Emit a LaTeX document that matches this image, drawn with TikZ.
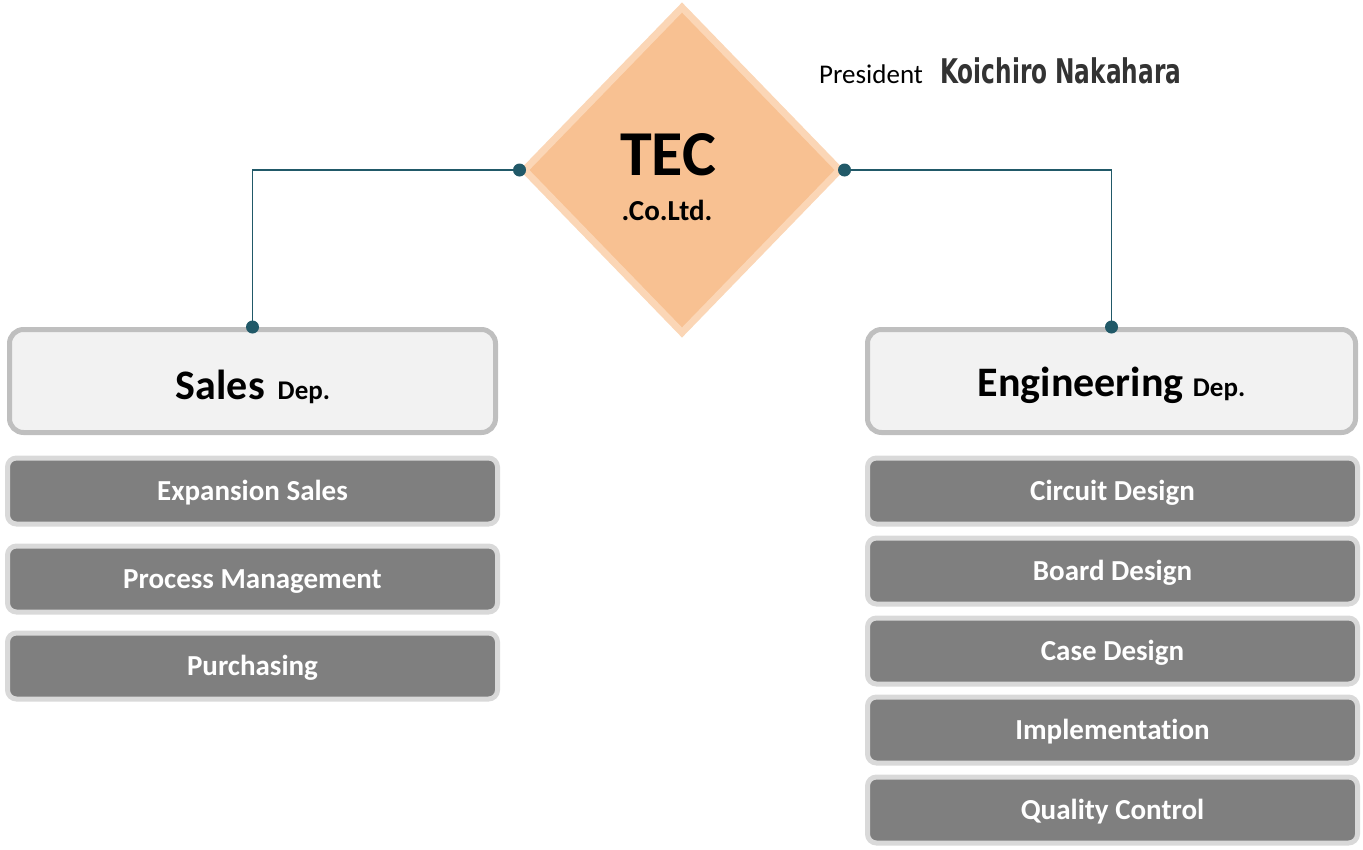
\documentclass[tikz,border=0pt]{standalone}
\usepackage{fontspec}
\setmainfont{Carlito}[Ligatures=NoCommon]
\newfontfamily\namefont{DejaVu Sans Condensed}
\usetikzlibrary{shapes.geometric}
\definecolor{peach}{HTML}{F8C192}
\definecolor{peachedge}{HTML}{FBD6B6}
\definecolor{teal}{HTML}{215968}
\definecolor{deptfill}{HTML}{F2F2F2}
\definecolor{deptedge}{HTML}{BFBFBF}
\definecolor{subfill}{HTML}{7F7F7F}
\definecolor{subedge}{HTML}{D9D9D9}
\definecolor{namegray}{HTML}{333333}
\tikzset{
  deptbox/.style={draw=deptedge, line width=5pt, fill=deptfill, rounded corners=14pt,
    minimum width=486pt, minimum height=103pt, inner sep=0pt},
  subbox/.style={draw=subedge, line width=5pt, fill=subfill, rounded corners=9pt,
    minimum width=490pt, minimum height=66pt, inner sep=0pt, text=white,
    text height=22pt, text depth=4pt,
    font=\bfseries\fontsize{29}{32}\selectfont},
  conn/.style={draw=teal, line width=1.8pt},
  dot/.style={circle, fill=teal, inner sep=0pt, minimum size=13pt},
}
\begin{document}
\begin{tikzpicture}[x=1pt,y=-1pt]
\useasboundingbox (0,0) rectangle (1363,849);
% diamond
\node[diamond, draw=peachedge, line width=7pt, fill=peach, minimum width=318pt,
  minimum height=328pt, inner sep=0pt] (tec) at (682,170) {};
\node[font=\bfseries\fontsize{64}{70}\selectfont, anchor=base] (tect) at (668,175) {TEC};
\node[font=\bfseries\fontsize{29}{32}\selectfont, anchor=base] (cot) at (667,220) {.Co.Ltd.};
% president
\node[anchor=base west, inner sep=0pt, font=\fontsize{27}{30}\selectfont] (pres) at (819,83) {President};
\node[anchor=base west, inner sep=0pt, text=namegray] (name) at (940,83)
  {\scalebox{0.76}[1]{\namefont\bfseries\fontsize{34}{38}\selectfont Koichiro Nakahara}};
% departments
\node[deptbox] (sales) at (252.5,381) {};
\node[anchor=base, inner sep=0pt] (salest) at (253,399) {\bfseries\fontsize{42}{46}\selectfont Sales\hspace{13pt}\fontsize{27}{30}\selectfont Dep.};
\node[deptbox, minimum width=488pt] (eng) at (1111.5,381) {};
\node[anchor=base, inner sep=0pt] (engt) at (1111.5,396) {\bfseries\fontsize{42}{46}\selectfont Engineering\ \fontsize{27}{30}\selectfont Dep.};
% connectors
\draw[conn] (tec.west) -| (sales.north);
\draw[conn] (tec.east) -| (eng.north);
\node[dot] (d1) at (tec.west) {};
\node[dot] (d2) at (tec.east) {};
\node[dot] (d3) at (sales.north) {};
\node[dot] (d4) at (eng.north) {};
% sales subunits
\node[subbox] (s1) at (252.5,491) {Expansion Sales};
\node[subbox] (s2) at (252.5,579) {Process Management};
\node[subbox] (s3) at (252.5,666) {Purchasing};
% engineering subunits
\node[subbox] (e1) at (1112.5,491) {Circuit Design};
\node[subbox] (e2) at (1112.5,571) {Board Design};
\node[subbox] (e3) at (1112.5,651) {Case Design};
\node[subbox] (e4) at (1112.5,730) {Implementation};
\node[subbox] (e5) at (1112.5,810) {Quality Control};
\end{tikzpicture}
\end{document}
